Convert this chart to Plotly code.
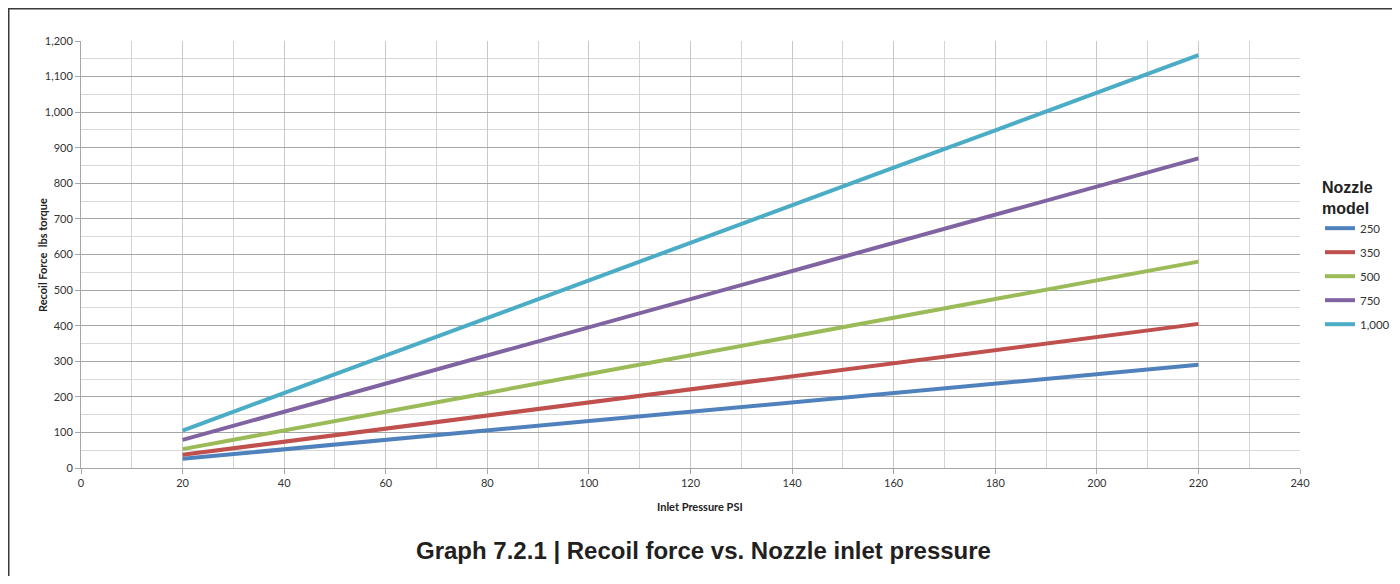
import plotly.graph_objects as go

pressure_psi = [20, 40, 60, 80, 100, 120, 140, 160, 180, 200, 220]
nozzle_models = ["250", "350", "500", "750", "1,000"]
recoil_250 = [26, 53, 79, 105, 132, 158, 184, 211, 237, 263, 290]
recoil_350 = [37, 74, 110, 147, 184, 221, 258, 295, 331, 368, 405]
recoil_500 = [53, 105, 158, 211, 264, 316, 369, 422, 475, 527, 580]
recoil_750 = [79, 158, 237, 316, 395, 475, 554, 633, 712, 791, 870]
recoil_1000 = [105, 211, 316, 422, 527, 633, 738, 844, 949, 1055, 1160]

_COLORS = ["#4F81BD", "#C0504D", "#9BBB59", "#8064A2", "#4BACC6"]
_TICK_FONT = dict(family="Lato, sans-serif", size=11, color="#333333")
_LABEL_FONT = dict(family="Lato, sans-serif", size=11, color="#222222")

# page body adds an 8px offset; figure is a bit wider than the window so the
# legend never pushes the plot area
_W, _H = 1410, 568
_L, _T = 73, 33
_PW, _PH = 1219, 427
_R, _B = _W - _L - _PW, _H - _T - _PH


def _px(x):
    return (x - 8 - _L) / _PW


def _py(y):
    return (_T + _PH - (y - 8)) / _PH


fig = go.Figure()
series = [recoil_250, recoil_350, recoil_500, recoil_750, recoil_1000]
for i, (name, values) in enumerate(zip(nozzle_models, series)):
    fig.add_trace(
        go.Scatter(
            x=pressure_psi,
            y=values,
            mode="lines",
            name=name,
            legendgroup=name,
            line=dict(color=_COLORS[i], width=4),
        )
    )

# outer frame (only top and left edges are visible in the original)
fx = (0.75 - _L) / _PW
fy = 1 + (_T - 0.75) / _PH
fig.add_shape(
    type="path",
    xref="paper",
    yref="paper",
    path=f"M {fx},-0.4 L {fx},{fy} L 1.2,{fy}",
    line=dict(color="#3a3a3a", width=1.5),
)

fig.add_annotation(
    text="<b>Graph 7.2.1 | Recoil force vs. Nozzle inlet pressure</b>",
    xref="paper", yref="paper",
    x=_px(703), y=_py(550),
    xanchor="center", yanchor="middle",
    showarrow=False,
    font=dict(family="Liberation Sans, Arial, sans-serif", size=24, color="#231f20"),
)
fig.add_annotation(
    text="<b>Inlet Pressure PSI</b>",
    xref="paper", yref="paper",
    x=_px(700), y=_py(506),
    xanchor="center", yanchor="middle",
    showarrow=False,
    font=_LABEL_FONT,
)
fig.add_annotation(
    text="<b>Recoil Force\u00a0\u00a0lbs torque</b>",
    xref="paper", yref="paper",
    x=_px(42), y=_py(255),
    xanchor="center", yanchor="middle",
    textangle=-90,
    showarrow=False,
    font=_LABEL_FONT,
)

fig.update_layout(
    width=_W,
    height=_H,
    margin=dict(l=_L, r=_R, t=_T, b=_B),
    paper_bgcolor="white",
    plot_bgcolor="white",
    showlegend=True,
    legend=dict(
        x=_px(1320),
        y=0.693,
        xanchor="left",
        yanchor="top",
        tracegroupgap=5,
        itemwidth=30,
        font=dict(family="Lato, sans-serif", size=11.5, color="#333333"),
        title=dict(
            text="<b>Nozzle<br>model</b>",
            side="top",
            font=dict(family="Liberation Sans, Arial, sans-serif", size=16, color="#222222"),
        ),
    ),
    xaxis=dict(
        range=[0, 240],
        dtick=20,
        tick0=0,
        showgrid=True,
        gridcolor="#c8c8c8",
        gridwidth=1,
        minor=dict(dtick=10, showgrid=True, gridcolor="#d4d4d4", gridwidth=1),
        showline=True,
        linecolor="#a6a6a6",
        ticks="outside",
        ticklen=5,
        tickcolor="#a6a6a6",
        tickfont=_TICK_FONT,
        zeroline=False,
    ),
    yaxis=dict(
        range=[0, 1200],
        dtick=100,
        tick0=0,
        tickformat=",",
        showgrid=True,
        gridcolor="#a6a6a6",
        gridwidth=1,
        minor=dict(dtick=50, showgrid=True, gridcolor="#d9d9d9", gridwidth=1),
        showline=True,
        linecolor="#a6a6a6",
        ticks="outside",
        ticklen=5,
        tickcolor="#a6a6a6",
        tickfont=_TICK_FONT,
        zeroline=False,
    ),
)

fig.write_html("out.html")
